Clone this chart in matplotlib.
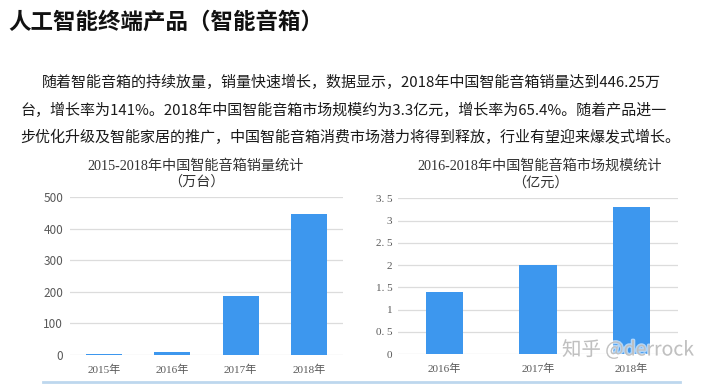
import matplotlib
matplotlib.use('Agg')
import matplotlib.pyplot as plt
from matplotlib.lines import Line2D
import matplotlib.patheffects as pe

plt.rcParams['font.family'] = ['Noto Sans CJK SC', 'DejaVu Sans']

# data
title = '人工智能终端产品（智能音箱）'
para_lines = [
    '随着智能音箱的持续放量，销量快速增长，数据显示，2018年中国智能音箱销量达到446.25万',
    '台，增长率为141%。2018年中国智能音箱市场规模约为3.3亿元，增长率为65.4%。随着产品进一',
    '步优化升级及智能家居的推广，中国智能音箱消费市场潜力将得到释放，行业有望迎来爆发式增长。',
]
sales_years = ['2015年', '2016年', '2017年', '2018年']
sales_values = [3, 8, 187, 446.25]
sales_title = '2015-2018年中国智能音箱销量统计\n（万台）'
sales_ticks = [0, 100, 200, 300, 400, 500]

market_years = ['2016年', '2017年', '2018年']
market_values = [1.4, 2.0, 3.3]
market_title = '2016-2018年中国智能音箱市场规模统计\n（亿元）'
market_ticks = [0, 0.5, 1, 1.5, 2, 2.5, 3, 3.5]
market_ticklabels = ['0', '0. 5', '1', '1. 5', '2', '2. 5', '3', '3. 5']

bar_color = '#3D97EE'
grid_color = '#DCDCDC'
text_gray = '#595959'
serif = ['Liberation Serif', 'Noto Sans CJK SC']

fig = plt.figure(figsize=(7.2, 3.85), dpi=100)

fig.text(8 / 720, 1 - 22 / 385, title, fontsize=16.2, fontweight='bold',
         va='center', ha='left', color='#111111')
fig.text(42 / 720, 1 - 82 / 385, para_lines[0], fontsize=10.8, va='center', color='#1a1a1a')
fig.text(20 / 720, 1 - 110 / 385, para_lines[1], fontsize=10.8, va='center', color='#1a1a1a')
fig.text(20 / 720, 1 - 137 / 385, para_lines[2], fontsize=10.8, va='center', color='#1a1a1a')


def style_axes(ax):
    for s in ax.spines.values():
        s.set_visible(False)
    ax.tick_params(length=0, colors=text_gray, labelsize=8)
    ax.yaxis.grid(True, color=grid_color, linewidth=0.9)
    ax.set_axisbelow(True)


# sales chart
ax1 = fig.add_axes([70 / 720, 1 - 355 / 385, 273 / 720, 158 / 385])
ax1.bar(range(len(sales_years)), sales_values, width=0.53, color=bar_color)
ax1.set_xlim(-0.5, len(sales_years) - 0.5)
ax1.set_ylim(0, 500)
ax1.set_yticks(sales_ticks)
ax1.set_xticks(range(len(sales_years)))
ax1.set_xticklabels(sales_years, family=serif, fontsize=10, color='#333333')
style_axes(ax1)
ax1.tick_params(axis='y', pad=5, labelsize=8.5)
ax1.tick_params(axis='x', pad=7)
fig.text(196 / 720, 1 - 174 / 385, sales_title, ha='center', va='center',
         family=serif, fontsize=10.2, color='#333333', linespacing=1.3)

# market chart
ax2 = fig.add_axes([398 / 720, 1 - 354 / 385, 280 / 720, 155.7 / 385])
ax2.bar(range(len(market_years)), market_values, width=0.4, color=bar_color)
ax2.set_xlim(-0.5, len(market_years) - 0.5)
ax2.set_ylim(0, 3.5)
ax2.set_yticks(market_ticks)
ax2.set_yticklabels(market_ticklabels, family=serif, fontsize=9.5)
ax2.set_xticks(range(len(market_years)))
ax2.set_xticklabels(market_years, family=serif, fontsize=10, color='#333333')
style_axes(ax2)
ax2.tick_params(axis='y', pad=4)
ax2.tick_params(axis='x', pad=7)
fig.text(540 / 720, 1 - 174 / 385, market_title, ha='center', va='center',
         family=serif, fontsize=10.2, color='#333333', linespacing=1.3)

# bottom rule
fig.add_artist(Line2D([43 / 720, 680 / 720], [1 - 382 / 385, 1 - 382 / 385],
                      color='#BDD7EE', linewidth=2))

# watermark
fig.text(628 / 720, 1 - 350 / 385, '知乎 @derrock', ha='center', va='center',
         fontsize=14, color='#BBBBBB', alpha=0.9,
         path_effects=[pe.withStroke(linewidth=2, foreground='white', alpha=0.6)])

fig.savefig('out.png', dpi=100)
